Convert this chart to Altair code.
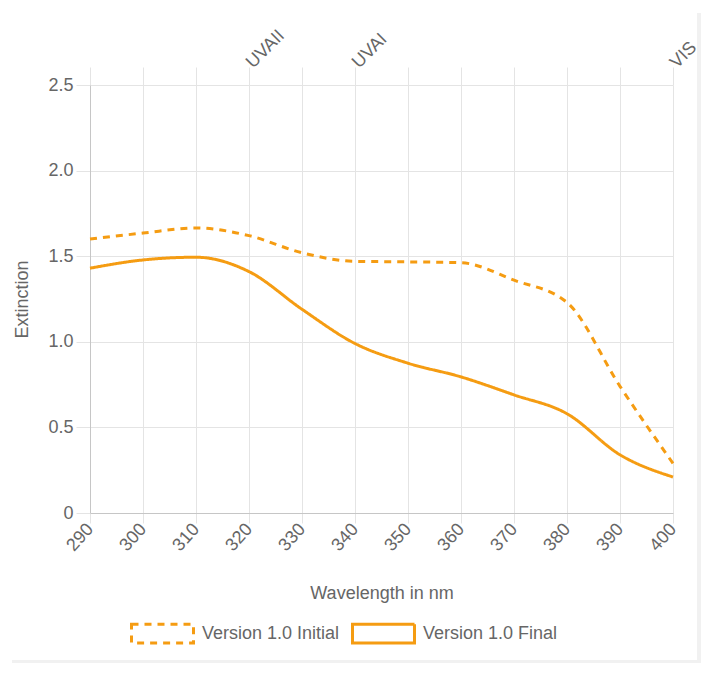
import altair as alt
import pandas as pd

wavelengths = [290, 300, 310, 320, 330, 340, 350, 360, 370, 380, 390, 400]
initial_vals = [1.60, 1.635, 1.665, 1.62, 1.52, 1.47, 1.467, 1.462, 1.36, 1.23, 0.74, 0.29]
final_vals = [1.43, 1.478, 1.494, 1.41, 1.19, 0.99, 0.875, 0.795, 0.69, 0.58, 0.34, 0.21]
series_names = ["Version 1.0 Initial", "Version 1.0 Final"]
y_ticks = [0, 0.5, 1.0, 1.5, 2.0, 2.5]
top_labels = {320: "UVAII", 340: "UVAI", 400: "VIS"}

rows = []
for name, vals in zip(series_names, [initial_vals, final_vals]):
    for w, v in zip(wavelengths, vals):
        rows.append({"wl": w, "ext": v, "series": name})
df = pd.DataFrame(rows)

ORANGE = "#f59c12"
GRID = "#e4e4e4"
TXT = "#666666"
FONT = "Liberation Sans"
FS = 18
CARD = "#f1f1f1"

top_expr = " : ".join(f"datum.value == {k} ? '{v}'" for k, v in top_labels.items()) + " : ''"

xscale = alt.Scale(domain=[290, 400], nice=False, zero=False)
yscale = alt.Scale(domain=[0, 2.5], nice=False)

# card edge (decoration only)
deco = pd.DataFrame({"k": [0]})
edge_right = alt.Chart(deco).mark_rect(color=CARD).encode(
    x=alt.value(607), x2=alt.value(640), y=alt.value(-72), y2=alt.value(600))
edge_bottom = alt.Chart(deco).mark_rect(color=CARD).encode(
    x=alt.value(-78), x2=alt.value(640), y=alt.value(575), y2=alt.value(600))

lines = alt.Chart(df).mark_line(interpolate="monotone", strokeWidth=3).encode(
    x=alt.X("wl:Q", scale=xscale,
            axis=alt.Axis(values=wavelengths, title="Wavelength in nm", labelAngle=-48,
                          labelAlign="right", labelBaseline="middle", tickSize=10,
                          labelPadding=3, titleY=80, titleBaseline="middle",
                          titleFontSize=FS, grid=True)),
    y=alt.Y("ext:Q", scale=yscale,
            axis=alt.Axis(values=y_ticks, title="Extinction", tickSize=14, labelPadding=3,
                          labelExpr="datum.value == 0 ? '0' : format(datum.value, '.1f')",
                          titleX=-68, titleBaseline="middle", titleFontSize=FS, grid=True)),
    color=alt.Color("series:N", scale=alt.Scale(domain=series_names, range=[ORANGE, ORANGE]),
                    legend=alt.Legend(title=None, orient="none", legendX=40, legendY=516,
                                      direction="horizontal",
                                      symbolType="M-1,-0.3H1V0.3H-1Z", symbolSize=3844,
                                      symbolStrokeWidth=3, symbolFillColor="white",
                                      labelFontSize=FS, labelColor=TXT, labelFont=FONT,
                                      labelOffset=7, columnPadding=6, padding=0)),
    strokeDash=alt.StrokeDash("series:N",
                              scale=alt.Scale(domain=series_names, range=[[7, 6], [1, 0]]),
                              legend=alt.Legend(title=None)),
)

top_axis = alt.Chart(df).mark_point(opacity=0).encode(
    x=alt.X("wl:Q", scale=xscale,
            axis=alt.Axis(orient="top", values=wavelengths, labelExpr=top_expr, title=None,
                          labelAngle=-45, labelAlign="left", labelBaseline="middle",
                          tickSize=18, labelPadding=2, domain=False, grid=False)),
)

chart = alt.layer(edge_right, edge_bottom, lines, top_axis).resolve_axis(x="independent").properties(
    width=583, height=428,
    autosize=alt.AutoSizeParams(type="none"),
    padding={"left": 82, "top": 77, "right": 28, "bottom": 150},
    background="white",
).configure_view(stroke=None).configure_axis(
    gridColor=GRID, tickColor=GRID, domainColor="#c6c6c6", labelColor=TXT, titleColor=TXT,
    labelFont=FONT, titleFont=FONT, labelFontSize=FS, titleFontWeight="normal",
)

chart.save("out.html", embed_options={"renderer": "svg", "actions": False})
